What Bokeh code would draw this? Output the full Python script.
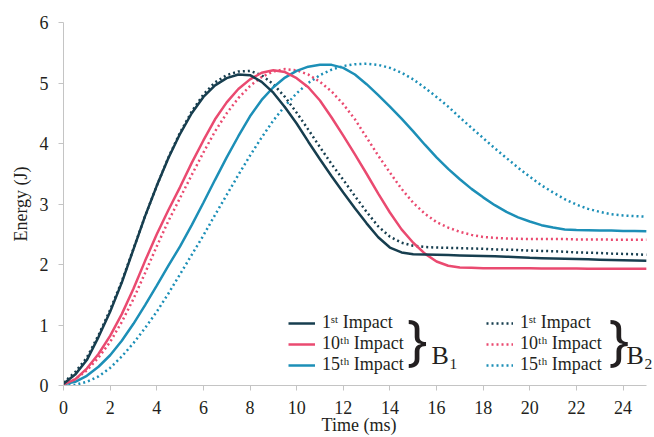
from bokeh.plotting import figure
from bokeh.models import Legend, LegendItem, Label, Range1d, FixedTicker
from bokeh.embed import file_html
from bokeh.resources import INLINE

# ---- data ----
time_ms = [0, 0.5, 1, 1.5, 2, 2.5, 3, 3.5, 4, 4.5, 5, 5.5, 6, 6.5, 7, 7.5, 8, 8.5, 9, 9.5,
           10, 10.5, 11, 11.5, 12, 12.5, 13, 13.5, 14, 14.5, 15, 15.5, 16, 16.5, 17, 17.5,
           18, 18.5, 19, 19.5, 20, 20.5, 21, 21.5, 22, 22.5, 23, 23.5, 24, 24.5, 25]

b1_1st = [0.03, 0.18, 0.42, 0.80, 1.22, 1.70, 2.25, 2.80, 3.30, 3.76, 4.16, 4.50, 4.77, 4.96, 5.08, 5.14,
          5.13, 5.02, 4.84, 4.60, 4.33, 4.03, 3.74, 3.46, 3.19, 2.93, 2.68, 2.45, 2.28, 2.20, 2.17, 2.165,
          2.16, 2.155, 2.15, 2.145, 2.14, 2.135, 2.13, 2.12, 2.11, 2.105, 2.10, 2.095, 2.09, 2.085, 2.08,
          2.075, 2.07, 2.065, 2.06]
b1_10th = [0.02, 0.10, 0.28, 0.52, 0.82, 1.18, 1.60, 2.06, 2.50, 2.90, 3.28, 3.68, 4.05, 4.40, 4.68, 4.90,
           5.06, 5.17, 5.21, 5.18, 5.08, 4.93, 4.71, 4.43, 4.13, 3.82, 3.50, 3.17, 2.86, 2.58, 2.36, 2.18,
           2.05, 1.98, 1.95, 1.945, 1.94, 1.94, 1.94, 1.94, 1.94, 1.935, 1.935, 1.935, 1.935, 1.93, 1.93,
           1.93, 1.93, 1.93, 1.93]
b1_15th = [0.02, 0.06, 0.16, 0.31, 0.50, 0.74, 1.02, 1.33, 1.65, 1.98, 2.30, 2.65, 3.02, 3.40, 3.77, 4.12,
           4.45, 4.72, 4.93, 5.09, 5.20, 5.27, 5.30, 5.30, 5.25, 5.14, 4.98, 4.80, 4.61, 4.41, 4.20, 3.98,
           3.77, 3.58, 3.41, 3.25, 3.11, 2.98, 2.87, 2.78, 2.71, 2.65, 2.61, 2.58, 2.57, 2.565, 2.56,
           2.56, 2.555, 2.555, 2.55]
b2_1st = [0.05, 0.22, 0.46, 0.83, 1.25, 1.72, 2.26, 2.80, 3.30, 3.77, 4.18, 4.53, 4.81, 5.01, 5.13, 5.19,
          5.20, 5.13, 4.98, 4.77, 4.51, 4.23, 3.94, 3.66, 3.40, 3.13, 2.87, 2.63, 2.46, 2.36, 2.31, 2.29,
          2.28, 2.275, 2.27, 2.265, 2.26, 2.25, 2.245, 2.24, 2.23, 2.225, 2.22, 2.21, 2.20, 2.195, 2.19,
          2.18, 2.175, 2.17, 2.16]
b2_10th = [0.03, 0.10, 0.25, 0.46, 0.72, 1.05, 1.43, 1.86, 2.30, 2.72, 3.10, 3.48, 3.85, 4.20, 4.50, 4.75,
           4.95, 5.10, 5.19, 5.23, 5.21, 5.14, 5.02, 4.86, 4.65, 4.40, 4.10, 3.80, 3.52, 3.25, 3.02, 2.84,
           2.70, 2.61, 2.54, 2.49, 2.455, 2.44, 2.43, 2.425, 2.42, 2.42, 2.42, 2.42, 2.415, 2.415, 2.415,
           2.41, 2.41, 2.41, 2.41]
b2_15th = [0.0, 0.01, 0.06, 0.15, 0.29, 0.48, 0.70, 0.95, 1.22, 1.52, 1.84, 2.16, 2.48, 2.82, 3.15, 3.48,
           3.80, 4.10, 4.38, 4.62, 4.83, 5.00, 5.13, 5.22, 5.28, 5.31, 5.32, 5.30, 5.25, 5.17, 5.06, 4.92,
           4.77, 4.61, 4.43, 4.26, 4.09, 3.92, 3.76, 3.60, 3.45, 3.31, 3.19, 3.08, 2.99, 2.92, 2.87,
           2.83, 2.81, 2.80, 2.79]

impact_labels = ["1\u02e2\u1d57 Impact", "10\u1d57\u02b0 Impact", "15\u1d57\u02b0 Impact"]
group_labels = ["B\u2081", "B\u2082"]
x_ticks = [0, 2, 4, 6, 8, 10, 12, 14, 16, 18, 20, 22, 24]
y_ticks = [0, 1, 2, 3, 4, 5, 6]

DARK = "#173e4f"
PINK = "#ea4a70"
BLUE = "#1c8fb7"
TXT = "#231f20"
AX = "#c4c4c4"
FONT = "Liberation Serif"

p = figure(width=654, height=437,
           min_border_left=63, min_border_right=0, min_border_top=22, min_border_bottom=5,
           x_range=Range1d(0, 25.35), y_range=Range1d(0, 6),
           output_backend="svg", toolbar_location=None)
p.outline_line_color = None
p.grid.visible = False
p.background_fill_color = "white"

for ax in (p.xaxis[0], p.yaxis[0]):
    ax.axis_line_color = AX
    ax.major_tick_line_color = AX
    ax.minor_tick_line_color = None
    ax.major_tick_in = 0
    ax.major_tick_out = 5
    ax.major_label_text_font = FONT
    ax.major_label_text_font_size = "18px"
    ax.major_label_text_color = TXT
    ax.axis_label_text_font = FONT
    ax.axis_label_text_font_size = "18px"
    ax.axis_label_text_font_style = "normal"
    ax.axis_label_text_color = TXT

p.xaxis.ticker = FixedTicker(ticks=x_ticks)
p.yaxis.ticker = FixedTicker(ticks=y_ticks)
p.xaxis.bounds = (0, 25)
p.xaxis.axis_label = "Time (ms)"
p.yaxis.axis_label = "Energy (J)"
p.xaxis.major_label_standoff = 10
p.xaxis.axis_label_standoff = -2
p.yaxis.major_label_standoff = 10
p.yaxis.axis_label_standoff = 6

LW = 2.5
DOT = "2 3"
rb2_15 = p.line(time_ms, b2_15th, line_color=BLUE, line_width=LW, line_dash=DOT)
rb2_10 = p.line(time_ms, b2_10th, line_color=PINK, line_width=LW, line_dash=DOT)
rb2_1 = p.line(time_ms, b2_1st, line_color=DARK, line_width=LW, line_dash=DOT)
rb1_15 = p.line(time_ms, b1_15th, line_color=BLUE, line_width=LW)
rb1_10 = p.line(time_ms, b1_10th, line_color=PINK, line_width=LW)
rb1_1 = p.line(time_ms, b1_1st, line_color=DARK, line_width=LW)


def make_legend(renderers, loc):
    items = [LegendItem(label=lab, renderers=[r]) for lab, r in zip(impact_labels, renderers)]
    return Legend(items=items, location=loc, orientation="vertical",
                  border_line_color=None, background_fill_alpha=0,
                  padding=0, margin=0, spacing=0,
                  glyph_width=27, glyph_height=20, label_height=20, label_standoff=7,
                  label_text_font=FONT, label_text_font_size="18px", label_text_color=TXT)


p.add_layout(make_legend([rb1_1, rb1_10, rb1_15], (225, 10)))
p.add_layout(make_legend([rb2_1, rb2_10, rb2_15], (423, 10)))

for bx, btxt_x, name in ((15.17, 15.79, group_labels[0]), (23.83, 24.15, group_labels[1])):
    p.add_layout(Label(x=bx, y=0.785, text="}", text_align="center", text_baseline="middle",
                       text_font="Noto Sans", text_font_size="54px", text_color=TXT))
    p.add_layout(Label(x=btxt_x, y=0.49, text=name, text_align="left", text_baseline="alphabetic",
                       text_font=FONT, text_font_size="26px", text_color=TXT))

open("out.html", "w").write(file_html(p, INLINE))
